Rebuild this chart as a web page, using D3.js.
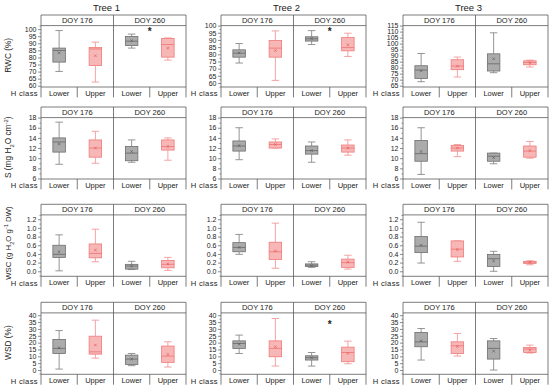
<!DOCTYPE html>
<html><head><meta charset="utf-8">
<script src="https://cdn.jsdelivr.net/npm/d3@7"></script>
<style>body{margin:0;background:#fff} svg{display:block} text{font-family:Arial,"Liberation Sans",sans-serif;fill:#222}</style>
</head><body><svg id="c" width="550" height="389"></svg>
<script>
// ---------- data ----------
const trees = ["Tree 1", "Tree 2", "Tree 3"];
const doys = ["DOY 176", "DOY 260"];
const hClasses = ["Lower", "Upper"];
// each box: [whiskerLow, q1, median, q3, whiskerHigh, mean]; order: L176, U176, L260, U260
const rwc = [
  [[70.1,76.7,84.9,86.6,99.0,83.3],[62.6,74.3,86.0,87.0,90.8,81.2],[86.6,88.4,91.5,94.8,96.5,91.8],[78.1,80.2,89.1,93.4,93.8,86.6]],
  [[73.9,78.0,80.8,83.1,87.5,81.0],[61.8,78.0,84.3,89.6,96.3,82.6],[86.8,89.2,90.8,92.2,96.5,91.0],[78.5,82.4,84.7,91.7,94.7,86.6]],
  [[68.3,71.0,78.0,81.6,91.8,77.4],[72.2,78.3,81.3,86.6,88.8,81.3],[75.8,77.2,83.2,91.5,109.0,87.4],[80.5,82.4,84.3,85.7,86.3,84.0]]
];
const sVals = [
  [[8.8,11.2,13.2,14.0,17.1,12.8],[9.0,10.2,12.0,13.6,15.3,12.0],[9.2,9.5,11.0,12.3,13.6,11.3],[9.6,11.6,12.3,13.6,14.0,12.3]],
  [[9.7,11.4,12.4,13.4,16.0,12.5],[12.0,12.0,12.7,13.2,13.8,12.7],[9.2,10.8,11.5,12.4,13.2,11.5],[10.6,11.2,12.0,12.6,13.6,12.0]],
  [[6.8,9.4,10.9,13.5,16.0,11.3],[10.3,11.4,12.0,12.5,12.7,12.0],[8.9,9.4,10.4,11.0,11.0,10.1],[10.0,10.2,11.4,12.4,13.3,11.5]]
];
const wsc = [
  [[0.01,0.32,0.39,0.60,0.84,0.45],[0.22,0.31,0.41,0.63,0.97,0.49],[0.04,0.05,0.12,0.16,0.23,0.12],[0.02,0.08,0.16,0.25,0.32,0.17]],
  [[0.39,0.45,0.55,0.66,0.85,0.55],[0.07,0.27,0.45,0.67,1.11,0.47],[0.09,0.11,0.14,0.17,0.22,0.13],[0.05,0.09,0.20,0.28,0.37,0.21]],
  [[0.19,0.43,0.58,0.80,1.13,0.60],[0.23,0.33,0.51,0.70,0.70,0.50],[0.00,0.11,0.29,0.39,0.46,0.24],[0.15,0.18,0.21,0.23,0.24,0.21]]
];
const wsd = [
  [[0.7,12.1,15.8,22.3,28.8,16.2],[8.7,11.6,13.3,24.7,36.4,18.2],[3.2,4.1,8.0,10.9,12.1,8.0],[2.2,5.6,10.2,17.5,20.6,11.4]],
  [[12.1,15.8,19.4,21.3,25.5,18.9],[2.9,9.7,15.8,21.3,37.6,17.0],[2.9,7.3,9.0,10.4,12.8,9.0],[4.6,6.1,12.8,16.7,21.1,12.1]],
  [[7.3,17.0,20.6,27.4,30.3,21.3],[10.2,12.1,17.7,20.6,26.7,17.2],[0.0,8.0,15.8,21.3,23.0,13.8],[12.4,12.8,15.3,16.5,18.2,14.5]]
];
// significance stars: [row, tree, value]
const stars = [[0,0,98.0],[0,1,95.8],[3,1,32.7]];
// y tick labels
const rwcTicks12 = [60,65,70,75,80,85,90,95,100];
const rwcTicks3 = [65,70,75,80,85,90,95,100,105,110,115];
const sTicks = [6,8,10,12,14,16,18];
const wscTicks = [0.0,0.2,0.4,0.6,0.8,1.0,1.2];
const wsdTicks = [0,5,10,15,20,25,30,35,40];

// ---------- layout ----------
const svg = d3.select("#c");
const colLeft = [41, 221, 403], colW = 145;
const rowTop = [15, 107, 204.3, 302.3];
const headerH = 10.6, plotH = 61.4, hH = 10.4;
const frameCol = "#5a5a5a";
const rows = [
  {data: rwc, ticks: [rwcTicks12, rwcTicks12, rwcTicks3], dom: [[59.1,102.5],[57.2,100],[63.9,115]], fmt: d3.format("d"), minor: 2.5},
  {data: sVals, ticks: [sTicks,sTicks,sTicks], dom: [[5.9,18],[5.9,18],[5.9,18]], fmt: d3.format("d"), minor: 1},
  {data: wsc, ticks: [wscTicks,wscTicks,wscTicks], dom: [[-0.116,1.3],[-0.116,1.3],[-0.116,1.3]], fmt: d3.format(".1f"), minor: 0.1},
  {data: wsd, ticks: [wsdTicks,wsdTicks,wsdTicks], dom: [[-3.1,41.7],[-3.1,41.7],[-3.1,41.7]], fmt: d3.format("d"), minor: 2.5}
];
const keys = ["L176","U176","L260","U260"];
const styles = {
  L: {fill:"#ababab", stroke:"#6e6e6e", whisk:"#8a8a8a", mean:"#555"},
  U: {fill:"#f8b7b7", stroke:"#ef7a7a", whisk:"#f29a9a", mean:"#e05050"}
};

// Tree titles
trees.forEach((t,c)=>{
  svg.append("text").attr("x", colLeft[c]+colW/2-7).attr("y", 8.5).attr("text-anchor","middle")
    .attr("dominant-baseline","middle").attr("font-size",9.5).text(t);
});

// y titles
function yTitle(g, r, cx, cy){
  const t = g.append("text").attr("transform",`translate(${cx},${cy}) rotate(-90)`)
    .attr("text-anchor","middle").attr("font-size", r===2 ? 7.8 : 8.3);
  if(r===0){ t.text("RWC (%)"); }
  else if(r===1){
    t.append("tspan").text("S (mg H");
    t.append("tspan").attr("baseline-shift","sub").attr("font-size",5.8).text("2");
    t.append("tspan").text("O cm");
    t.append("tspan").attr("baseline-shift","super").attr("font-size",5.8).text("-2");
    t.append("tspan").text(")");
  } else if(r===2){
    t.append("tspan").text("WSC (g H");
    t.append("tspan").attr("baseline-shift","sub").attr("font-size",5.6).text("2");
    t.append("tspan").text("O g");
    t.append("tspan").attr("baseline-shift","super").attr("font-size",5.6).text("-1");
    t.append("tspan").text(" DW)");
  } else { t.text("WSD (%)"); }
}

rows.forEach((row, r)=>{
  const y0 = rowTop[r];
  const pTop = y0+headerH, pBot = pTop+plotH, bot = pBot+hH;
  yTitle(svg, r, 11, (pTop+pBot)/2 - (r===2 ? 2.5 : 1));
  trees.forEach((t,c)=>{
    const x0 = colLeft[c];
    const g = svg.append("g");
    const y = d3.scaleLinear().domain(row.dom[c]).range([pBot, pTop]);
    const x = d3.scaleBand().domain(keys).range([x0, x0+colW]);
    const bw = x.bandwidth();
    // frame
    const fr = g.append("g").attr("stroke",frameCol).attr("stroke-width",0.8).attr("fill","none");
    fr.append("path").attr("d",`M${x0},${bot}V${y0}H${x0+colW}V${bot}`);
    fr.append("line").attr("x1",x0).attr("x2",x0+colW).attr("y1",pTop).attr("y2",pTop);
    fr.append("line").attr("x1",x0).attr("x2",x0+colW).attr("y1",pBot).attr("y2",pBot);
    fr.append("line").attr("x1",x("L260")).attr("x2",x("L260")).attr("y1",y0).attr("y2",bot);
    ["U176","U260"].forEach(k=>fr.append("line").attr("x1",x(k)).attr("x2",x(k)).attr("y1",pBot).attr("y2",bot));
    // header labels
    doys.forEach((d,i)=>{
      g.append("text").attr("x", x0+colW/4+i*colW/2).attr("y",(y0+pTop)/2+0.5).attr("text-anchor","middle")
        .attr("dominant-baseline","middle").attr("font-size",7.5).text(d);
    });
    // H class labels
    keys.forEach((k,i)=>{
      g.append("text").attr("x", x(k)+bw/2).attr("y",(pBot+bot)/2+1.6).attr("text-anchor","middle")
        .attr("dominant-baseline","middle").attr("font-size",7.5).text(hClasses[i%2]);
    });
    svg.append("text").attr("x", x0-3).attr("y",(pBot+bot)/2+2.2).attr("text-anchor","end")
      .attr("dominant-baseline","middle").attr("font-size",7.6).attr("letter-spacing",0.35).text("H class");
    // y axis
    const dom = row.dom[c];
    const minorVals = d3.range(Math.ceil(dom[0]/row.minor)*row.minor, dom[1]+1e-9, row.minor)
      .filter(v=>!row.ticks[c].some(t=>Math.abs(t-v)<1e-9));
    const ax = g.append("g").attr("transform",`translate(${x0},0)`)
      .call(d3.axisLeft(y).tickValues(row.ticks[c]).tickSize(3).tickPadding(1.5).tickFormat(row.fmt));
    ax.select(".domain").remove();
    ax.selectAll("line").attr("stroke",frameCol).attr("stroke-width",0.7);
    ax.selectAll("text").attr("font-size",7).attr("font-family","Arial, 'Liberation Sans', sans-serif").attr("fill","#222");
    const axm = g.append("g").attr("transform",`translate(${x0},0)`)
      .call(d3.axisLeft(y).tickValues(minorVals).tickSize(1.6).tickFormat(""));
    axm.select(".domain").remove();
    axm.selectAll("line").attr("stroke",frameCol).attr("stroke-width",0.6);
    // boxes
    const boxW = 12.5, capW = 7.5;
    row.data[c].forEach((b,i)=>{
      const st = styles[i%2===0?"L":"U"];
      const cx = x(keys[i])+bw/2;
      const [lo,q1,md,q3,hi,mn] = b;
      const bg = g.append("g");
      bg.append("line").attr("x1",cx).attr("x2",cx).attr("y1",y(hi)).attr("y2",y(q3)).attr("stroke",st.whisk).attr("stroke-width",0.9);
      bg.append("line").attr("x1",cx).attr("x2",cx).attr("y1",y(q1)).attr("y2",y(lo)).attr("stroke",st.whisk).attr("stroke-width",0.9);
      [hi,lo].forEach(v=>bg.append("line").attr("x1",cx-capW/2).attr("x2",cx+capW/2).attr("y1",y(v)).attr("y2",y(v)).attr("stroke",st.whisk).attr("stroke-width",0.9));
      bg.append("rect").attr("x",cx-boxW/2).attr("width",boxW).attr("y",y(q3)).attr("height",Math.max(0.5,y(q1)-y(q3)))
        .attr("fill",st.fill).attr("stroke",st.stroke).attr("stroke-width",0.8);
      bg.append("line").attr("x1",cx-boxW/2).attr("x2",cx+boxW/2).attr("y1",y(md)).attr("y2",y(md)).attr("stroke",st.stroke).attr("stroke-width",0.9);
      const m = 1.3, my = y(mn);
      bg.append("path").attr("d",`M${cx-m},${my-m}L${cx+m},${my+m}M${cx-m},${my+m}L${cx+m},${my-m}`).attr("stroke",st.mean).attr("stroke-width",0.6);
    });
    // stars
    stars.filter(s=>s[0]===r && s[1]===c).forEach(s=>{
      g.append("text").attr("x", x("U260")).attr("y", y(s[2])+3.2).attr("text-anchor","middle")
        .attr("font-size",10).attr("font-weight","bold").text("*");
    });
  });
});
</script></body></html>
